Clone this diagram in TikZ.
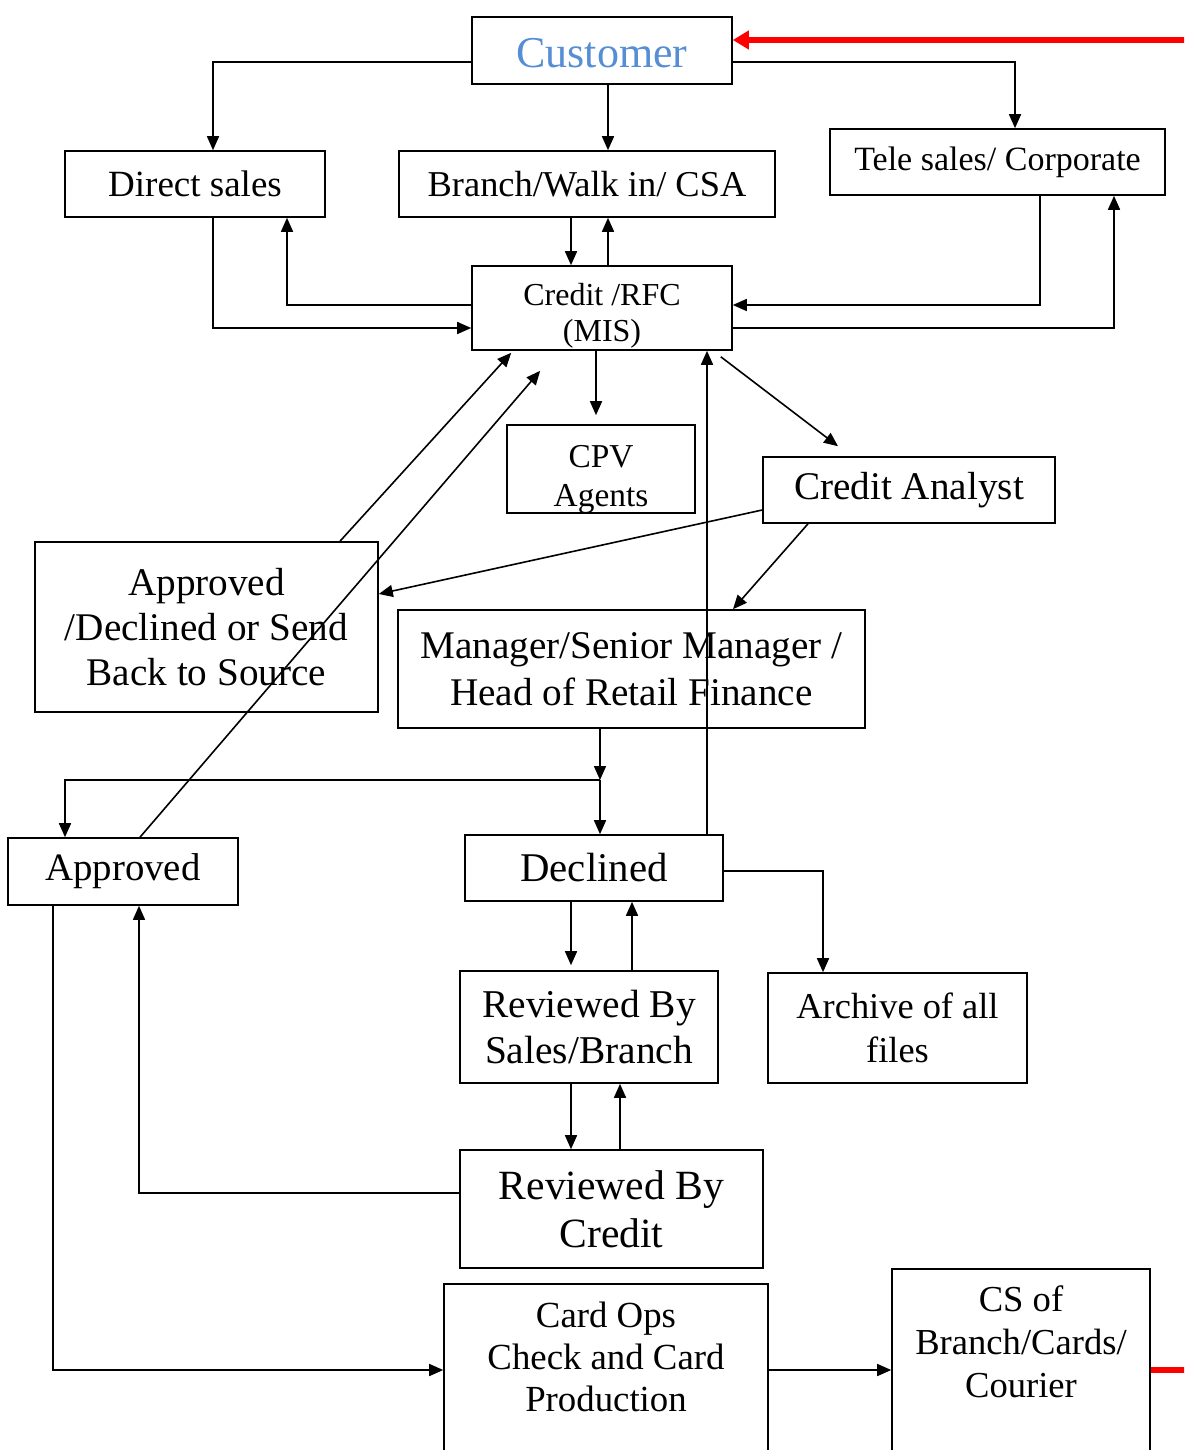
\documentclass[tikz,border=0pt]{standalone}
\usepackage{fontspec}
\setmainfont{Liberation Serif}
\usepackage{tikz}
\usetikzlibrary{arrows.meta}
\usetikzlibrary{positioning}

\definecolor{custblue}{RGB}{85,142,213}
\newcommand{\fs}[2]{\fontsize{#1}{#2}\selectfont}

\begin{document}
\begin{tikzpicture}[x=0.5pt,y=-0.5pt,thick,
	>={Triangle[length=7pt,width=6pt]},
	box/.style={draw,rectangle,inner sep=2pt,align=center},
	redline/.style={red,line width=3pt,>={Triangle[length=8pt,width=9pt]}}]
	\useasboundingbox (0,0) rectangle (1184,1450);
	\clip (0,0) rectangle (1184,1450);
	% boxes
	\node[box,minimum width=130pt,minimum height=33.5pt,inner sep=0pt,text height=25.5pt,text depth=8pt,font=\fs{22}{26},text=custblue] (Cust) at (602,50.5) {Customer};
	\node[box,minimum width=130pt,minimum height=33pt,font=\fs{18.5}{22}] (Direct) at (195,184) {Direct sales};
	\node[box,minimum width=188pt,minimum height=33pt,font=\fs{18.2}{22}] (Branch) at (587,184) {Branch/Walk in/ CSA};
	\node[box,minimum width=167.5pt,minimum height=33pt,font=\fs{17}{20}] (Tele) at (997.5,162) {Tele sales/ Corporate};
	\node[box,minimum width=130pt,minimum height=42pt,inner sep=0pt,text height=19.5pt,text depth=22.5pt,font=\fs{16}{18}] (RFC) at (602,308) {\parbox[t]{128pt}{\centering Credit /RFC\\(MIS)}};
	\node[box,minimum width=94pt,minimum height=44pt,inner sep=0pt,text height=21pt,text depth=23pt,font=\fs{16.7}{19.5}] (CPV) at (601,469) {\parbox[t]{92pt}{\centering CPV\\Agents}};
	\node[box,minimum width=146pt,minimum height=33pt,font=\fs{19.6}{23}] (Analyst) at (909,490) {Credit Analyst};
	\node[box,minimum width=171.5pt,minimum height=85pt,font=\fs{19.6}{22.3}] (ADS) at (206.5,627) {Approved\\/Declined or Send\\Back to Source};
	\node[box,minimum width=233.5pt,minimum height=59pt,font=\fs{19.6}{23.5}] (Mgr) at (631.5,669) {Manager/Senior Manager /\\Head of Retail Finance};
	\node[box,minimum width=115pt,minimum height=33.5pt,font=\fs{19.4}{23}] (Appr) at (123,871.5) {Approved};
	\node[box,minimum width=129pt,minimum height=33pt,font=\fs{20.4}{24}] (Decl) at (594,868) {Declined};
	\node[box,minimum width=129pt,minimum height=56pt,font=\fs{19.7}{23}] (RevSB) at (589,1027) {Reviewed By\\Sales/Branch};
	\node[box,minimum width=129.5pt,minimum height=55pt,font=\fs{18.2}{22}] (Arch) at (897.5,1028) {Archive of all\\files};
	\node[box,minimum width=151.5pt,minimum height=59pt,font=\fs{20.8}{24}] (RevCr) at (611.5,1209) {Reviewed By\\Credit};
	\node[box,anchor=north,minimum width=162pt,inner sep=9pt,text depth=110pt,font=\fs{18.4}{21}] (Ops) at (606,1283) {\parbox[t]{144pt}{\centering Card Ops\\Check and Card\\Production}};
	\node[box,anchor=north,minimum width=129pt,inner sep=8.5pt,text depth=110pt,font=\fs{18.3}{21.5}] (CS) at (1021,1268) {\parbox[t]{112pt}{\centering CS of\\Branch/Cards/\\Courier}};
	\coordinate (jn) at (600,780);
	% customer to channels
	\draw[->] (Cust.west |- 0,62) -| (213,0 |- Direct.north);
	\draw[->] (608,0 |- Cust.south) -- (608,0 |- Branch.north);
	\draw[->] (Cust.east |- 0,62) -| (1015,0 |- Tele.north);
	\draw[redline,->] (CS.east |- 0,1370) -- ++(70,0) |- (Cust.east |- 0,40);
	% channels and credit
	\draw[->] (571,0 |- Branch.south) -- (571,0 |- RFC.north);
	\draw[->] (608,0 |- RFC.north) -- (608,0 |- Branch.south);
	\draw[->] (213,0 |- Direct.south) |- (RFC.west |- 0,328);
	\draw[->] (RFC.west |- 0,305) -| (287,0 |- Direct.south);
	\draw[->] (1040,0 |- Tele.south) |- (RFC.east |- 0,305);
	\draw[->] (RFC.east |- 0,328) -| (1114,0 |- Tele.south);
	\draw[->,shorten >=4.5pt] (596,0 |- RFC.south) -- (596,0 |- CPV.north);
	\draw[->] ([shift={(-12,6)}]RFC.south east) -- ([shift={(-71,-10)}]Analyst.north);
	\draw[->] (707,0 |- Decl.north) -- (707,0 |- RFC.south);
	\draw[->] (340,0 |- ADS.north) -- ([shift={(40,2)}]RFC.south west);
	\draw[->] (140,0 |- Appr.north) -- ([shift={(69,20)}]RFC.south west);
	% analyst and manager
	\draw[->] (Analyst.west |- 0,510) -- (ADS.east |- 0,594);
	\draw[->] (808,0 |- Analyst.south) -- (733,0 |- Mgr.north);
	\draw[->] (jn |- Mgr.south) -- (jn);
	\draw[->] (jn) -- (jn |- Decl.north);
	\draw[->] (jn) -| (65,0 |- Appr.north);
	% declined loop
	\draw[->,shorten >=2.5pt] (571,0 |- Decl.south) -- (571,0 |- RevSB.north);
	\draw[->] (632,0 |- RevSB.north) -- (632,0 |- Decl.south);
	\draw[->] (Decl.east |- 0,871) -| (823,0 |- Arch.north);
	\draw[->] (571,0 |- RevSB.south) -- (571,0 |- RevCr.north);
	\draw[->] (620,0 |- RevCr.north) -- (620,0 |- RevSB.south);
	\draw[->] (RevCr.west |- 0,1193) -| (139,0 |- Appr.south);
	% production
	\draw[->] (53,0 |- Appr.south) |- (Ops.west |- 0,1370);
	\draw[->] (Ops.east |- 0,1370) -- (CS.west |- 0,1370);
\end{tikzpicture}
\end{document}
